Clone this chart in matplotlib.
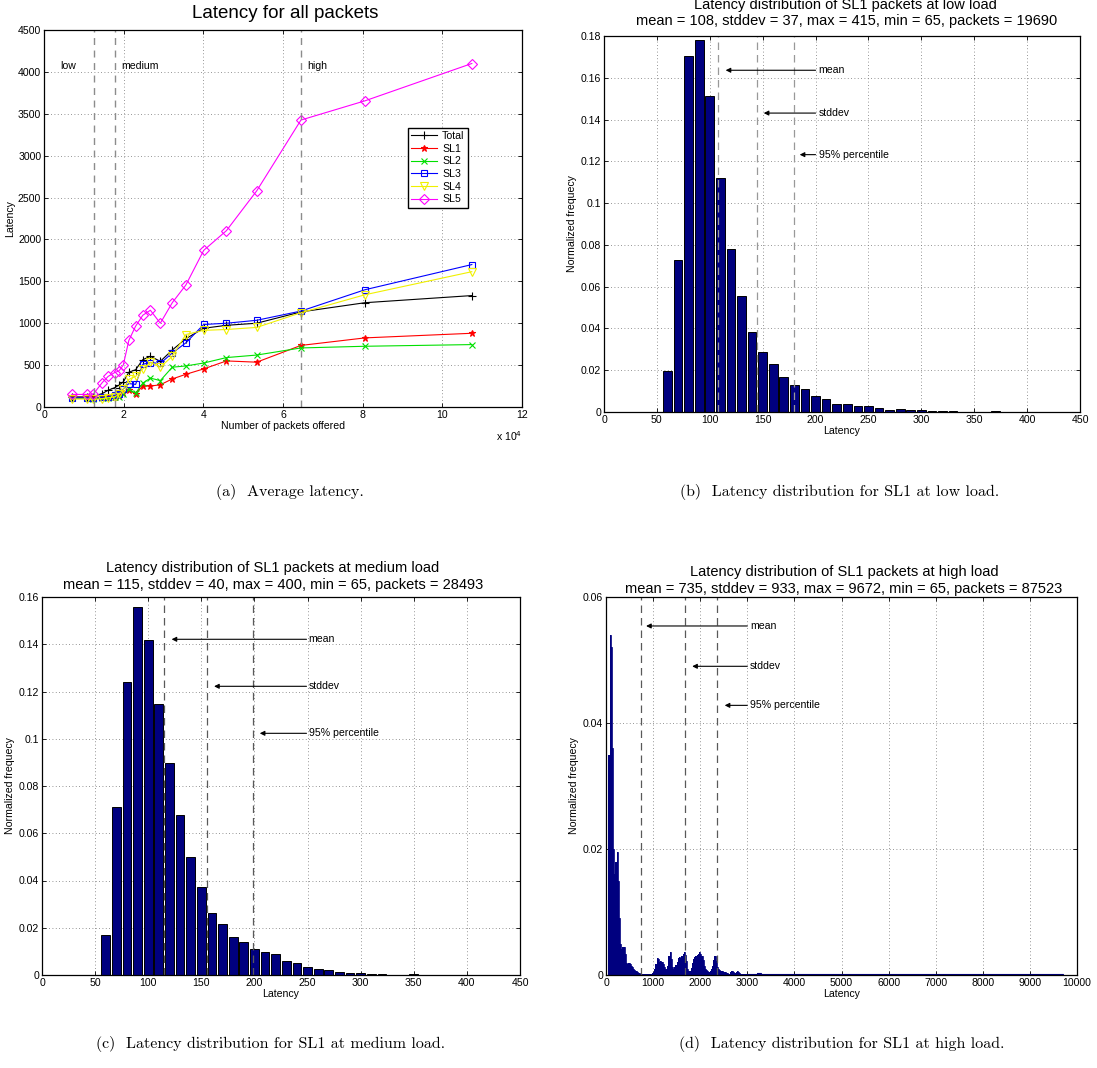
import matplotlib
matplotlib.use("Agg")
import matplotlib.pyplot as plt
import numpy as np

plt.rcParams['font.family'] = ['Liberation Sans', 'DejaVu Sans']

# ---------------- data ----------------
offered = [0.70e4, 1.08e4, 1.24e4, 1.46e4, 1.61e4, 1.77e4, 1.88e4, 1.99e4, 2.13e4, 2.30e4,
           2.48e4, 2.67e4, 2.92e4, 3.22e4, 3.56e4, 4.01e4, 4.58e4, 5.34e4, 6.45e4, 8.06e4, 10.74e4]
lat_total = [120, 120, 125, 160, 200, 230, 260, 300, 415, 445, 565, 605, 545, 680, 815, 940, 975, 1000, 1135, 1245, 1330]
lat_sl1 = [115, 115, 110, 115, 118, 120, 135, 165, 200, 160, 250, 250, 265, 335, 390, 455, 550, 535, 735, 825, 880]
lat_sl2 = [105, 105, 100, 105, 110, 115, 125, 150, 210, 165, 285, 345, 315, 475, 490, 525, 590, 620, 705, 725, 745]
lat_sl3 = [110, 110, 105, 115, 125, 140, 160, 215, 280, 270, 510, 530, 520, 645, 765, 985, 1000, 1035, 1145, 1400, 1700]
lat_sl4 = [95, 95, 90, 100, 110, 120, 150, 210, 330, 365, 455, 535, 475, 605, 865, 915, 925, 950, 1125, 1340, 1615]
lat_sl5 = [150, 150, 155, 290, 365, 410, 430, 500, 795, 965, 1095, 1155, 1000, 1245, 1455, 1870, 2105, 2580, 3425, 3655, 4100]
series_names = ['Total', 'SL1', 'SL2', 'SL3', 'SL4', 'SL5']
load_bounds = [1.255e4, 1.79e4, 6.46e4]
load_names = ['low', 'medium', 'high']

# low load histogram (bin centres, normalized frequency)
bins_low = [50, 60, 70, 80, 90, 100, 110, 120, 130, 140, 150, 160, 170, 180, 190, 200, 210, 220,
            230, 240, 250, 260, 270, 280, 290, 300, 310, 320, 330, 340, 350, 360, 370, 380, 390, 400, 410]
freq_low = [0.0002, 0.0196, 0.0730, 0.1705, 0.1780, 0.1512, 0.1122, 0.0778, 0.0554, 0.0385, 0.0286,
            0.0229, 0.0166, 0.0129, 0.0110, 0.0075, 0.0060, 0.0040, 0.0037, 0.0029, 0.0027, 0.0019,
            0.0011, 0.0013, 0.0008, 0.0008, 0.0006, 0.0006, 0.0003, 0.0002, 0.0001, 0.0001, 0.0003,
            0.0001, 0.0002, 0.0001, 0.0001]
stats_low = dict(mean=108, std=145, p95=180)

# medium load histogram
bins_med = [50, 60, 70, 80, 90, 100, 110, 120, 130, 140, 150, 160, 170, 180, 190, 200, 210, 220,
            230, 240, 250, 260, 270, 280, 290, 300, 310, 320, 330, 340, 350, 360, 370, 380, 390, 400]
freq_med = [0.0002, 0.0169, 0.0711, 0.1241, 0.1559, 0.1420, 0.1145, 0.0899, 0.0677, 0.0499, 0.0371,
            0.0261, 0.0217, 0.0160, 0.0140, 0.0112, 0.0098, 0.0091, 0.0061, 0.0050, 0.0033, 0.0027,
            0.0020, 0.0014, 0.0009, 0.0007, 0.0006, 0.0003, 0.0002, 0.0002, 0.0003, 0.0001, 0.0001,
            0.0001, 0.0001, 0.0001]
stats_med = dict(mean=115, std=155, p95=199)

# high load histogram: fine bins (width 25) from 50 to 3000
bins_high_start = 50
bins_high_width = 25
freq_high = [0.0350, 0.0540, 0.0520, 0.0360, 0.0200, 0.0160, 0.0180, 0.0195, 0.0150, 0.0090,
             0.0050, 0.0042, 0.0044, 0.0045, 0.0033, 0.0019, 0.0018, 0.0019, 0.0018, 0.0014,
             0.0012, 0.0010, 0.0008, 0.0006, 0.0004, 0.0003, 0.0003, 0.0002, 0.0002, 0.0002,
             0.0001, 0.0001, 0.0001, 0.0001, 0.0001, 0.0001, 0.0002, 0.0003, 0.0005, 0.0009,
             0.0018, 0.0027, 0.0025, 0.0020, 0.0022, 0.0021, 0.0018, 0.0012, 0.0009, 0.0009,
             0.0015, 0.0030, 0.0037, 0.0026, 0.0012, 0.0010, 0.0012, 0.0016, 0.0020, 0.0027,
             0.0028, 0.0027, 0.0030, 0.0034, 0.0037, 0.0032, 0.0022, 0.0010, 0.0006, 0.0007,
             0.0011, 0.0019, 0.0025, 0.0028, 0.0030, 0.0032, 0.0034, 0.0037, 0.0034, 0.0030,
             0.0024, 0.0014, 0.0010, 0.0008, 0.0007, 0.0005, 0.0006, 0.0010, 0.0015, 0.0024,
             0.0030, 0.0023, 0.0013, 0.0010, 0.0008, 0.0007, 0.0006, 0.0005, 0.0005, 0.0004,
             0.0003, 0.0003, 0.0002, 0.0004, 0.0007, 0.0006, 0.0004, 0.0003, 0.0004, 0.0006,
             0.0005, 0.0003, 0.0002, 0.0002, 0.0002, 0.0002, 0.0001, 0.0001]
# sparse tail, coarse bins (width 100) from 3000 to 9700
tail_start = 3000
tail_width = 100
freq_tail = [0.0001, 0.0001, 0.0003, 0.0001, 0.0001, 0.0001, 0.0001, 0.0001, 0.0001, 0.0001,
             0.0001, 0.0001, 0.0001, 0.0001, 0.0001, 0.0001, 0.0001, 0.00015, 0.00015, 0.0001,
             0.0002, 0.0001, 0.0001, 0.0001, 0.0001, 0.0001, 0.0001, 0.0001, 0.0001, 0.0001,
             0.0001, 0.0001, 0.0001, 0.0001, 0.0001, 0.0001, 0.0001, 0.0001, 0.0001, 0.0001,
             0.0001, 0.0001, 0.0001, 0.0001, 0.0001, 0.0001, 0.0001, 0.0001, 0.0001, 0.0001,
             0.0001, 0.0001, 0.0001, 0.0001, 0.0001, 0.0001, 0.0001, 0.0001, 0.0001, 0.0001,
             0.0001, 0.0001, 0.0001, 0.0001, 0.0001, 0.0001, 0.0001]
stats_high = dict(mean=735, std=1668, p95=2355)

# ---------------- figure ----------------
W, H = 1097, 1068
fig = plt.figure(figsize=(W / 100, H / 100), dpi=100)

def px_axes(l, r, t, b):
    return fig.add_axes([l / W, 1 - b / H, (r - l) / W, (b - t) / H])

TICK = 7.6
TITLE = 10.5
BAR = '#00007f'

def style(ax):
    ax.tick_params(direction='in', labelsize=TICK, length=3, width=0.6,
                   top=True, right=True, pad=2)
    ax.grid(True, linestyle=(0, (1, 3)), color='0.45', linewidth=0.6)
    ax.set_axisbelow(True)
    for s in ax.spines.values():
        s.set_linewidth(0.9)

# (a) average latency
axa = px_axes(44, 522, 30, 407)
style(axa)
lines_cfg = [
    (lat_total, 'k', '+', dict(markersize=6)),
    (lat_sl1, 'red', '*', dict(markersize=5)),
    (lat_sl2, '#00e000', 'x', dict(markersize=4)),
    (lat_sl3, 'blue', 's', dict(markersize=5, markerfacecolor='none')),
    (lat_sl4, '#f0f000', 'v', dict(markersize=6, markerfacecolor='none')),
    (lat_sl5, 'magenta', 'D', dict(markersize=5, markerfacecolor='none')),
]
for (vals, c, m, kw), name in zip(lines_cfg, series_names):
    axa.plot(offered, vals, color=c, marker=m, linewidth=0.8, markeredgewidth=0.8, label=name, **kw)
for xb in load_bounds:
    axa.axvline(xb, color='0.55', linestyle=(0, (5, 4)), linewidth=1.0)
axa.text(0.42e4, 4070, load_names[0], fontsize=TICK, va='center')
axa.text(1.93e4, 4070, load_names[1], fontsize=TICK, va='center')
axa.text(6.6e4, 4070, load_names[2], fontsize=TICK, va='center')
axa.set_xlim(0, 12e4)
axa.set_ylim(0, 4500)
axa.set_xticks(np.arange(0, 12.1e4, 2e4))
axa.set_xticklabels(['0', '2', '4', '6', '8', '10', '12'])
axa.set_yticks(np.arange(0, 4501, 500))
axa.set_xlabel('Number of packets offered', fontsize=TICK, labelpad=1)
axa.set_ylabel('Latency', fontsize=TICK, labelpad=2)
axa.text(1.0, -0.077, r'x 10$^4$', transform=axa.transAxes, ha='right', va='center', fontsize=TICK)
leg = axa.legend(loc='upper left', bbox_to_anchor=(0.762, 0.74), fontsize=TICK, frameon=True,
                 fancybox=False, edgecolor='k', framealpha=1, handlelength=2.4, labelspacing=0.25,
                 borderpad=0.3, handletextpad=0.5, borderaxespad=0)
leg.get_frame().set_linewidth(1.0)
fig.text(285 / W, 1 - 13 / H, 'Latency for all packets', ha='center', va='center', fontsize=13.5)

def hist_panel(ax, centers, freqs, width, stats, ymax, yticks, xlim, xticks, arrow_y, arrow_x0,
               arrow_tips, text_x, dash_col):
    style(ax)
    ax.bar(centers, freqs, width=width, color=BAR, edgecolor='k', linewidth=0.7)
    for key in ('mean', 'std', 'p95'):
        ax.axvline(stats[key], color=dash_col, linestyle=(0, (6, 4)), linewidth=0.9)
    labels = ['mean', 'stddev', '95% percentile']
    for yy, tip, lab in zip(arrow_y, arrow_tips, labels):
        ax.annotate('', xy=(tip, yy), xytext=(arrow_x0, yy),
                    arrowprops=dict(arrowstyle='-|>', color='k', lw=0.8, mutation_scale=7,
                                    shrinkA=0, shrinkB=0))
        ax.text(text_x, yy, lab, fontsize=TICK, va='center', ha='left')
    ax.set_xlim(*xlim)
    ax.set_ylim(0, ymax)
    ax.set_xticks(xticks)
    ax.set_yticks(yticks)
    ax.set_xlabel('Latency', fontsize=TICK, labelpad=1)
    ax.set_ylabel('Normalized frequecy', fontsize=TICK, labelpad=3)

# (b) low load
axb = px_axes(604, 1080, 36, 412)
hist_panel(axb, bins_low, freq_low, 8.2, stats_low, 0.18, np.arange(0, 0.181, 0.02),
           (0, 450), np.arange(0, 451, 50), [0.1636, 0.1431, 0.1232], 200, [115, 151, 185], 203, '0.6')
axb.set_yticklabels(['0', '0.02', '0.04', '0.06', '0.08', '0.1', '0.12', '0.14', '0.16', '0.18'])
fig.text(845 / W, 1 - 5 / H, 'Latency distribution of SL1 packets at low load', ha='center', va='center', fontsize=TITLE)
fig.text(847 / W, 1 - 21 / H, 'mean = 108, stddev = 37, max = 415, min = 65, packets = 19690',
         ha='center', va='center', fontsize=TITLE)

# (c) medium load
axc = px_axes(42, 520, 597, 975)
hist_panel(axc, bins_med, freq_med, 8.2, stats_med, 0.16, np.arange(0, 0.161, 0.02),
           (0, 450), np.arange(0, 451, 50), [0.1421, 0.1222, 0.1023], 249, [122, 162, 205], 251, '0.35')
axc.set_yticklabels(['0', '0.02', '0.04', '0.06', '0.08', '0.1', '0.12', '0.14', '0.16'])
fig.text(273 / W, 1 - 568 / H, 'Latency distribution of SL1 packets at medium load', ha='center', va='center', fontsize=TITLE)
fig.text(273 / W, 1 - 585 / H, 'mean = 115, stddev = 40, max = 400, min = 65, packets = 28493',
         ha='center', va='center', fontsize=TITLE)

# (d) high load
axd = px_axes(606, 1077, 597, 975)
style(axd)
edges_high = bins_high_start + bins_high_width * np.arange(len(freq_high) + 1)
edges_tail = tail_start + tail_width * np.arange(len(freq_tail) + 1)
axd.stairs(freq_high, edges_high, fill=True, color=BAR, linewidth=0)
axd.stairs(freq_high, edges_high, fill=False, color=BAR, linewidth=0.6)
axd.stairs(freq_tail, edges_tail, fill=True, color=BAR, linewidth=0)
axd.stairs(freq_tail, edges_tail, fill=False, color=BAR, linewidth=0.8)
for key in ('mean', 'std', 'p95'):
    axd.axvline(stats_high[key], color='0.35', linestyle=(0, (6, 4)), linewidth=0.9)
for yy, tip, lab in zip([0.0554, 0.0490, 0.0428], [851, 1830, 2520], ['mean', 'stddev', '95% percentile']):
    axd.annotate('', xy=(tip, yy), xytext=(3000, yy),
                 arrowprops=dict(arrowstyle='-|>', color='k', lw=0.8, mutation_scale=7, shrinkA=0, shrinkB=0))
    axd.text(3060, yy, lab, fontsize=TICK, va='center', ha='left')
axd.set_xlim(0, 10000)
axd.set_ylim(0, 0.06)
axd.set_xticks(np.arange(0, 10001, 1000))
axd.set_yticks([0, 0.02, 0.04, 0.06])
axd.set_yticklabels(['0', '0.02', '0.04', '0.06'])
axd.set_xlabel('Latency', fontsize=TICK, labelpad=1)
axd.set_ylabel('Normalized frequecy', fontsize=TICK, labelpad=3)
fig.text(844 / W, 1 - 572 / H, 'Latency distribution of SL1 packets at high load', ha='center', va='center', fontsize=TITLE)
fig.text(844 / W, 1 - 589 / H, 'mean = 735, stddev = 933, max = 9672, min = 65, packets = 87523',
         ha='center', va='center', fontsize=TITLE)

# captions
cap = dict(ha='center', va='center', fontsize=11.5, family=['cmr10', 'DejaVu Serif'])
fig.text(290 / W, 1 - 492 / H, '(a)  Average latency.', **cap)
fig.text(840 / W, 1 - 492 / H, '(b)  Latency distribution for SL1 at low load.', **cap)
fig.text(271 / W, 1 - 1044 / H, '(c)  Latency distribution for SL1 at medium load.', **cap)
fig.text(842 / W, 1 - 1044 / H, '(d)  Latency distribution for SL1 at high load.', **cap)

fig.savefig('out.png', dpi=100)
